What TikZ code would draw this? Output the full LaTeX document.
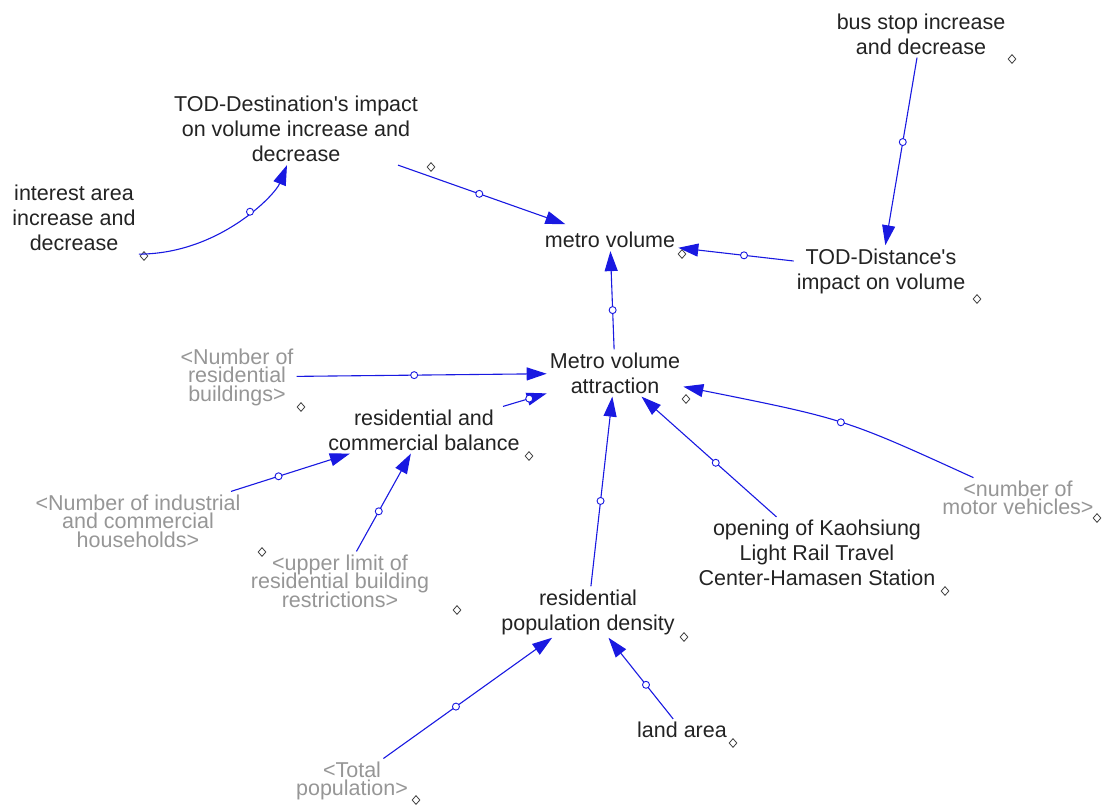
\documentclass[tikz,border=0pt]{standalone}
\usepackage{fontspec}
\setmainfont{Liberation Sans}
\usetikzlibrary{arrows.meta,shapes.geometric}
\definecolor{linkblue}{RGB}{25,25,225}
\definecolor{vartext}{RGB}{35,35,35}
\definecolor{shadowtext}{RGB}{150,150,150}
% let lines of shadow variables sit closer than their glyph heights
\newcommand\tightlines{\lineskiplimit=-40pt\relax}
\begin{document}
\begin{tikzpicture}[x=1pt,y=-1pt,
  var/.style={align=center, inner sep=3pt, text=vartext,
    font=\fontsize{21.5}{25}\selectfont},
  shadowvar/.style={align=center, inner sep=3pt, text=shadowtext,
    font=\fontsize{21.5}{18.5}\selectfont\tightlines},
  vdot/.style={diamond, draw=black!75, line width=0.8pt, fill=white,
    inner sep=0pt, minimum width=8pt, minimum height=9pt},
  link/.style={draw=linkblue, line width=1.1pt,
    -{Triangle[length=20pt,width=13pt]}},
  knob/.style={circle, draw=linkblue, fill=white, line width=0.9pt,
    inner sep=0pt, minimum size=7pt},
]
\useasboundingbox (0,0) rectangle (1103,807);

% variables
\node[var] (busstop) at (921,34) {bus stop increase\\and decrease};
\node[vdot] (busstopm) at (1012,59) {};
\node[var] (toddest) at (296,129) {TOD-Destination\textquotesingle s impact\\on volume increase and\\decrease};
\node[vdot] (toddestm) at (431,167) {};
\node[var] (interest) at (74,218) {interest area\\increase and\\decrease};
\node[vdot] (interestm) at (144,256) {};
\node[var] (metrovol) at (610,240) {metro volume};
\node[vdot] (metrovolm) at (682,254) {};
\node[var] (toddist) at (881,271) {TOD-Distance\textquotesingle s\\impact on volume};
\node[vdot] (toddistm) at (977,299) {};
\node[var] (attract) at (615,373) {Metro volume\\attraction};
\node[vdot] (attractm) at (686,399) {};
\node[shadowvar] (resbld) at (237,377) {<Number of\\residential\\buildings>};
\node[vdot] (resbldm) at (301,407) {};
\node[var] (rcbal) at (424,430) {residential and\\commercial balance};
\node[vdot] (rcbalm) at (529,456) {};
\node[shadowvar] (indhh) at (138,521) {<Number of industrial\\and commercial\\households>};
\node[vdot] (indhhm) at (262,552) {};
\node[shadowvar] (upper) at (340,581) {<upper limit of\\residential building\\restrictions>};
\node[vdot] (upperm) at (457,610) {};
\node[var] (opening) at (817,553) {opening of Kaohsiung\\Light Rail Travel\\Center-Hamasen Station};
\node[vdot] (openingm) at (945,591) {};
\node[shadowvar] (motor) at (1018,498) {<number of\\motor vehicles>};
\node[vdot] (motorm) at (1097,518) {};
\node[var] (density) at (588,612) {residential\\population density};
\node[vdot] (densitym) at (684,637) {};
\node[var] (land) at (682,730) {land area};
\node[vdot] (landm) at (733,743) {};
\node[shadowvar] (totalpop) at (352,781) {<Total\\population>};
\node[vdot] (totalpopm) at (416,800) {};

% causal links
\draw[link] (interest.south east) .. controls +(80,0) and +(-12,30) .. ([xshift=-9pt]toddest.south) node[knob,pos=0.58]{};
\draw[link,shorten >=14pt] (toddest) -- (metrovol) node[knob,pos=0.45]{};
\draw[link] (busstop) -- (toddist) node[knob,pos=0.45]{};
\draw[link] (toddist) -- (metrovol) node[knob,pos=0.43]{};
\draw[link] (attract) -- (metrovol) node[knob,pos=0.4]{};
\draw[link] (resbld) -- (attract) node[knob,pos=0.47]{};
\draw[link] (rcbal) -- (attract) node[knob,pos=0.6]{};
\draw[link] (indhh) -- (rcbal) node[knob,pos=0.4]{};
\draw[link] (upper) -- (rcbal) node[knob,pos=0.41]{};
\draw[link] (density) -- (attract) node[knob,pos=0.45]{};
\draw[link] (opening) -- (attract) node[knob,pos=0.45]{};
\draw[link] (motor) .. controls (845,419) .. (attract) node[knob,pos=0.5]{};
\draw[link] (totalpop) -- (density) node[knob,pos=0.43]{};
\draw[link] (land) -- (density) node[knob,pos=0.42]{};
\end{tikzpicture}
\end{document}
